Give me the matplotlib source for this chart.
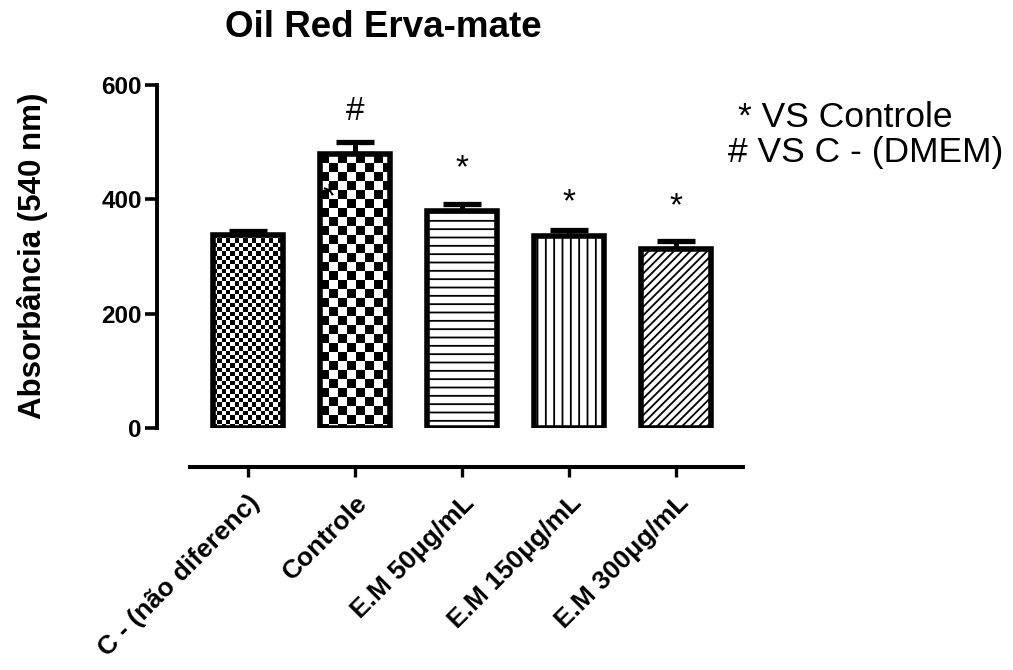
import matplotlib.pyplot as plt
import numpy as np

plt.rcParams['font.family'] = ['Liberation Sans', 'DejaVu Sans']
plt.rcParams['hatch.linewidth'] = 1.3

groups = ["C - (não diferenc)", "Controle", "E.M 50μg/mL", "E.M 150μg/mL", "E.M 300μg/mL"]
means = [338, 479, 380, 336, 313]
errors = [6, 22, 12, 10, 14]
marks = ["", "#", "*", "*", "*"]
mark_y = [0, 554, 453, 394, 387]

fig = plt.figure(figsize=(10.13, 6.7), dpi=100)
ax = fig.add_axes([0.155, 0.361, 0.578, 0.512])

x = np.arange(len(groups))
width = 0.66
hatches = [None, None, '--', '||', '////']
faces = ['none', 'none', 'white', 'white', 'white']
bars = ax.bar(x, means, width=width, color=faces, edgecolor='black',
              linewidth=4, zorder=3)
for b, h in zip(bars, hatches):
    if h:
        b.set_hatch(h)

ax.set_xlim(-0.85, 4.62)
ax.set_ylim(0, 600)


def checker(bar, cell_px):
    # checkerboard fill clipped to the bar outline
    x0, y0 = bar.get_x(), bar.get_y()
    w, hgt = bar.get_width(), bar.get_height()
    px_x = ax.transData.transform((1, 0))[0] - ax.transData.transform((0, 0))[0]
    px_y = ax.transData.transform((0, 1))[1] - ax.transData.transform((0, 0))[1]
    nx = int(np.ceil(w * px_x / cell_px))
    ny = int(np.ceil(hgt * px_y / cell_px))
    grid = (np.add.outer(np.arange(ny), np.arange(nx)) % 2).astype(float)
    im = ax.imshow(grid, cmap='gray', interpolation='nearest', aspect='auto',
                   extent=(x0, x0 + nx * cell_px / px_x, y0 + hgt - ny * cell_px / px_y, y0 + hgt),
                   origin='upper', zorder=2.9)
    im.set_clip_path(bar)


checker(bars[0], 4.3)
checker(bars[1], 9.0)
ax.set_xlim(-0.85, 4.62)
ax.set_ylim(0, 600)

ax.errorbar(x, means, yerr=[np.zeros(len(errors)), errors], fmt='none',
            ecolor='black', elinewidth=3.6, capsize=14, capthick=3.8, zorder=2.5)

for xi, m, yv in zip(x, marks, mark_y):
    if m:
        ax.text(xi, yv, m, ha='center', va='center', fontsize=24, zorder=5)
ax.text(0.757, 403, "*", ha='center', va='center', fontsize=24, zorder=5)

for s in ['top', 'right']:
    ax.spines[s].set_visible(False)
ax.spines['left'].set_linewidth(2.8)
ax.spines['bottom'].set_linewidth(2.9)
ax.spines['bottom'].set_position(('outward', 28))
ax.spines['bottom'].set_bounds(-0.54, 4.62)

ax.set_yticks([0, 200, 400, 600])
ax.tick_params(axis='y', length=9, width=2.6, labelsize=17.5, pad=2)
ax.tick_params(axis='x', length=7, width=2.4, labelsize=19, pad=10)
for lbl in ax.get_yticklabels():
    lbl.set_fontweight('bold')
ax.set_xticks(x)
ax.set_xticklabels(groups, rotation=45, ha='right', rotation_mode='anchor',
                   fontweight='bold')

fig.text(0.0325, 0.618, "Absorbância (540 nm)", rotation=90, ha='center',
         va='center', fontsize=22.5, fontweight='bold')
fig.text(0.3785, 0.9448, "Oil Red Erva-mate", ha='center', va='baseline',
         fontsize=26.5, fontweight='bold')

fig.text(0.7285, 0.8104, "* VS Controle", ha='left', va='baseline', fontsize=25.5)
fig.text(0.7187, 0.7582, "# VS C - (DMEM)", ha='left', va='baseline', fontsize=25.5)

fig.savefig("out.png", dpi=100)
